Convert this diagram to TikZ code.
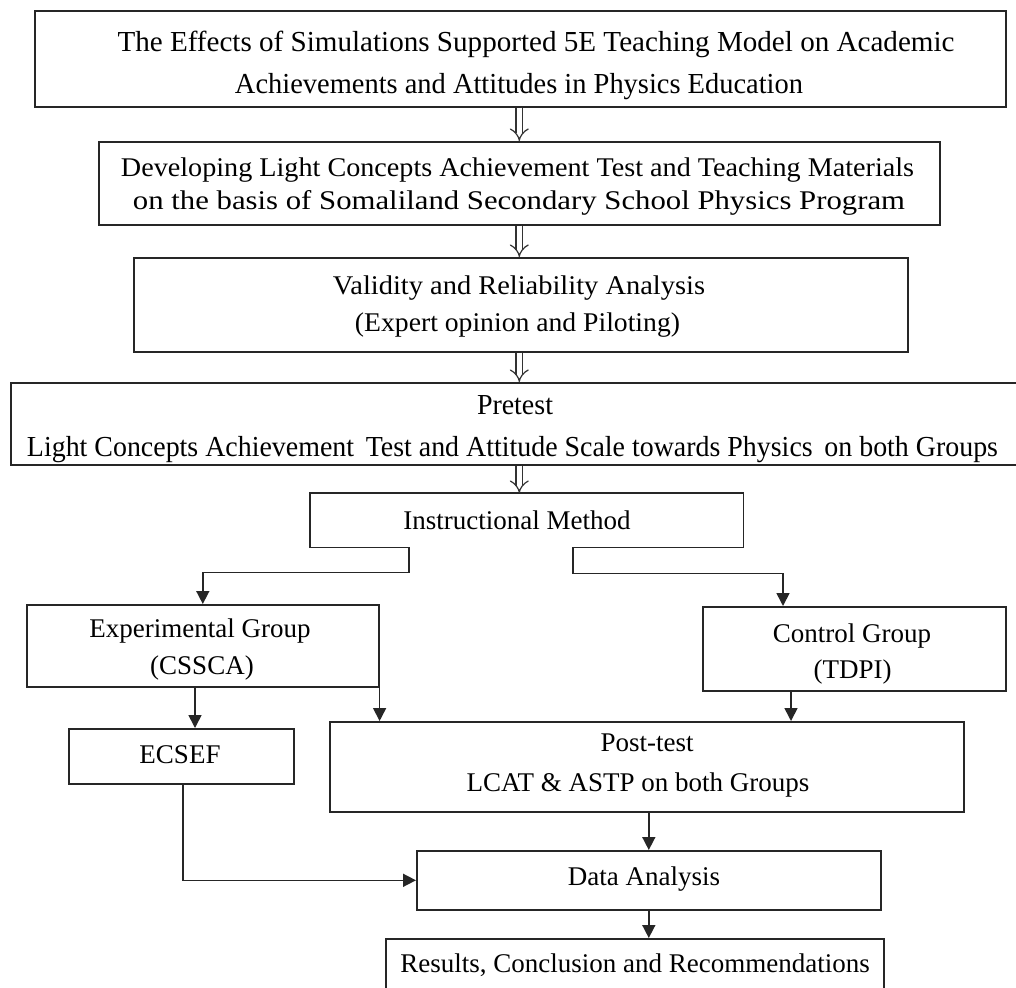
\documentclass[tikz,border=0pt]{standalone}
\usepackage{fontspec}
\setmainfont{Liberation Serif}
\usetikzlibrary{arrows.meta,calc}
\newcommand{\fitw}[2]{\resizebox{#1pt}{\height}{#2}}
\begin{document}
\begin{tikzpicture}[x=1pt,y=-1pt,
  box/.style={draw=black!85, line width=1.6pt, anchor=north west, inner sep=0pt},
  nobox/.style={anchor=north west, inner sep=0pt},
  txt/.style={anchor=base, inner sep=0pt, font=\fontsize{27}{32}\selectfont},
  toptxt/.style={anchor=base, inner sep=0pt, font=\fontsize{29}{34}\selectfont},
  edge/.style={draw=black!85, line width=1.6pt},
  arr/.style={draw=black!85, line width=1.6pt, -{Triangle[length=13pt,width=13pt]}},
  hollow/.style={draw=black!80, double=white, double distance=5.5pt, line width=1.2pt, -{Implies}}]
\useasboundingbox (0,0) rectangle (1016,987);
\clip (0,0) rectangle (1016,987);
\fill[white] (0,0) rectangle (1016,987);

% boxes
\node[box, minimum width=971pt, minimum height=96pt] (b1) at (34,10) {};
\node[box, minimum width=841pt, minimum height=83pt] (b2) at (98,141) {};
\node[box, minimum width=774pt, minimum height=94pt] (b3) at (133,257) {};
\node[box, minimum width=1012pt, minimum height=82pt] (b4) at (10,382) {};
\node[nobox, minimum width=433pt, minimum height=54pt] (b5) at (310,493) {};
\node[box, minimum width=352pt, minimum height=82pt] (exp) at (26,604) {};
\node[box, minimum width=303pt, minimum height=84pt] (ctrl) at (702,606) {};
\node[box, minimum width=225pt, minimum height=55pt] (ecsef) at (68,728) {};
\node[box, minimum width=634pt, minimum height=90pt] (post) at (329,721) {};
\node[box, minimum width=464pt, minimum height=59pt] (data) at (416,850) {};
\node[box, minimum width=498pt, minimum height=70pt] (res) at (385,938) {};

% texts
\node[toptxt] (t1a) at (536,52) {\fitw{837}{The Effects of Simulations Supported 5E Teaching Model on Academic}};
\node[toptxt] (t1b) at (519,94) {\fitw{568}{Achievements and Attitudes in Physics Education}};
\node[txt] (t2a) at (517.5,176) {\fitw{793}{Developing Light Concepts Achievement Test and Teaching Materials}};
\node[txt] (t2b) at (519,209) {\fitw{772}{on the basis of Somaliland Secondary School Physics Program}};
\node[txt] (t3a) at (519,294) {\fitw{372}{Validity and Reliability Analysis}};
\node[txt] (t3b) at (517.5,331) {\fitw{325}{(Expert opinion and Piloting)}};
\node[toptxt] (t4a) at (515,414) {\fitw{76}{Pretest}};
\node[toptxt] (t4b) at (512.5,456) {\fitw{971}{Light Concepts Achievement\, Test and Attitude Scale towards Physics\, on both Groups}};
\node[txt] (t5) at (517,529) {Instructional Method};
\node[txt] (texa) at (200,637) {Experimental Group};
\node[txt] (texb) at (202,674) {(CSSCA)};
\node[txt] (tca) at (852,642) {Control Group};
\node[txt] (tcb) at (852.5,678) {(TDPI)};
\node[txt] (tec) at (180,763) {ECSEF};
\node[txt] (tpa) at (647,751) {Post-test};
\node[txt] (tpb) at (638,791) {LCAT \& ASTP on both Groups};
\node[txt] (tda) at (644,885) {Data Analysis};
\node[txt] (tre) at (635,972) {Results, Conclusion and Recommendations};

% instructional method box outline (bottom open between the two branches)
\coordinate (i1) at ($(b5.south west)+(99,0)$);
\coordinate (i2) at ($(b5.south west)+(263,0)$);
\draw[edge] (i1) -- (b5.south west) -- (b5.north west) -- (b5.north east) -- (b5.south east) -- (i2);

% hollow arrows
\draw[hollow] (b2.north |- b1.south) -- (b2.north);
\draw[hollow] (b2.south) -- (b2.south |- b3.north);
\draw[hollow] (b3.south -| b2.south) -- (b4.north -| b2.south);
\draw[hollow] (b4.south -| b2.south) -- (b5.north -| b2.south);

% branches
\draw[arr] (i1) -- ++(0,25) -| (exp.north);
\coordinate (c0) at ($(ctrl.north west)+(81,0)$);
\draw[arr] (i2) -- ++(0,26) -| (c0);
\coordinate (e0) at ($(exp.south west)+(169,0)$);
\draw[arr] (e0) -- (e0 |- ecsef.north);
\draw[arr] (exp.south east) -- (exp.south east |- post.north);
\coordinate (c1) at ($(ctrl.south west)+(89,0)$);
\draw[arr] (c1) -- (c1 |- post.north);
\coordinate (e1) at ($(ecsef.south west)+(115,0)$);
\draw[arr] (e1) |- (data.west);
\draw[arr] (data.north |- post.south) -- (data.north);
\draw[arr] (data.south) -- (data.south |- res.north);
\end{tikzpicture}
\end{document}
